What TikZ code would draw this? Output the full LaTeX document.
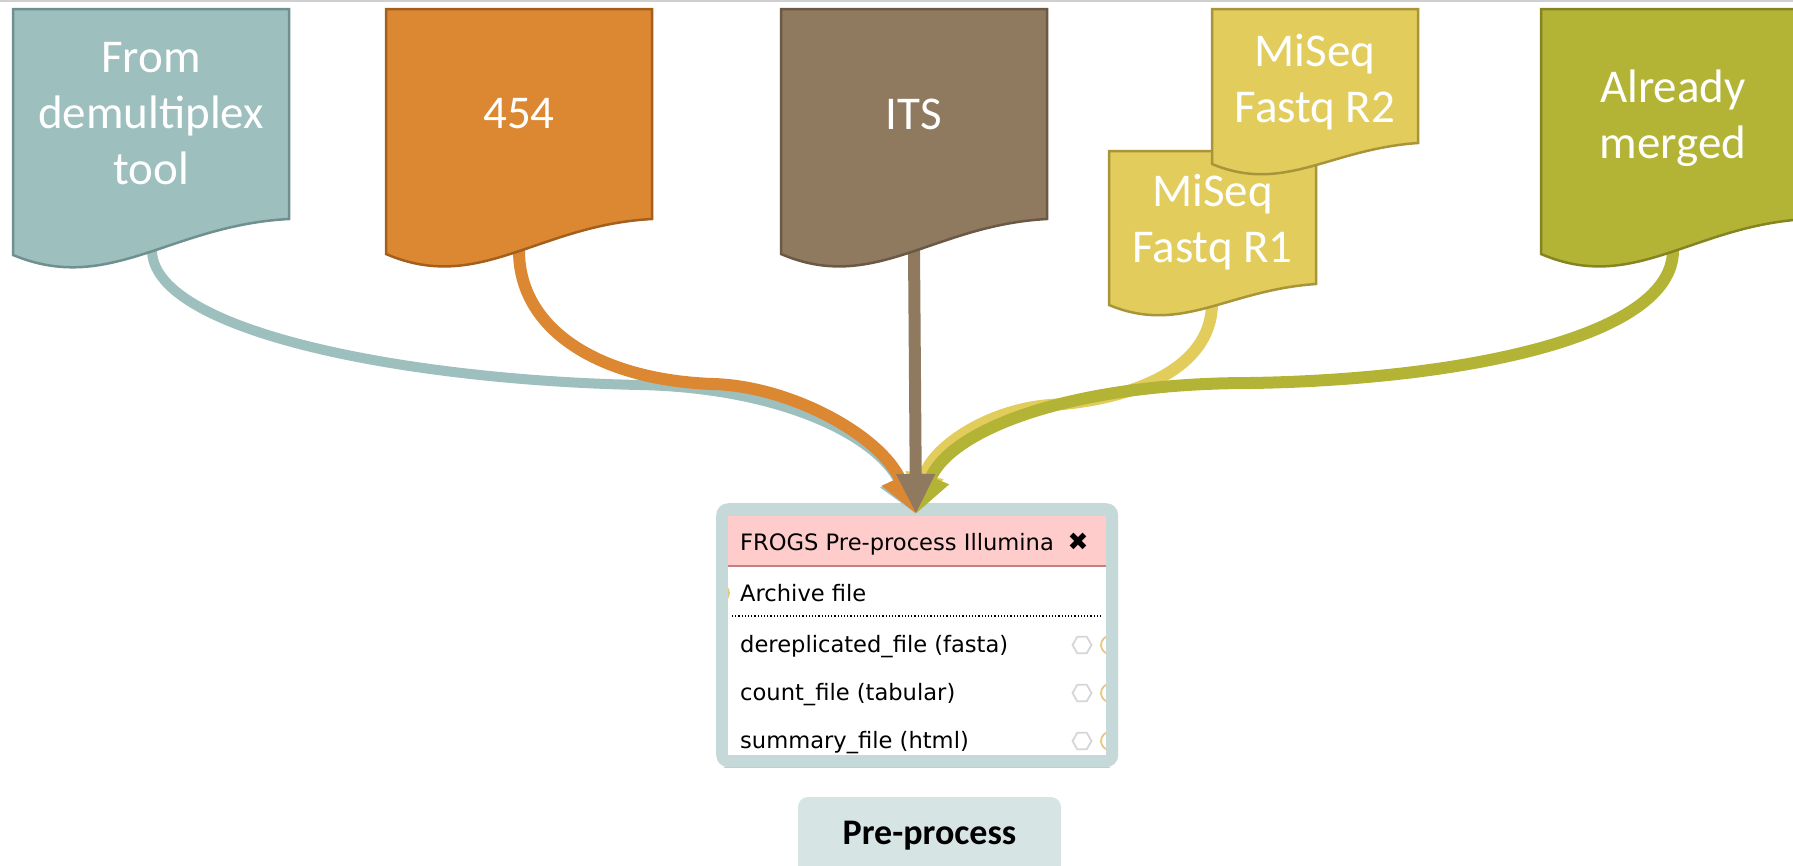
\documentclass[tikz,border=0pt]{standalone}
\usepackage{fontspec}
\setmainfont{Carlito}
\newfontfamily\uifont{DejaVu Sans}
\usetikzlibrary{arrows.meta,shapes.geometric}
\definecolor{cteal}{HTML}{9DBFBE}
\definecolor{cteald}{HTML}{6F908F}
\definecolor{corange}{HTML}{DC8732}
\definecolor{coranged}{HTML}{A45F1C}
\definecolor{cbrown}{HTML}{8F7A5F}
\definecolor{cbrownd}{HTML}{6A5944}
\definecolor{cyellow}{HTML}{E2CC5C}
\definecolor{cyellowd}{HTML}{A8953A}
\definecolor{colive}{HTML}{B3B435}
\definecolor{coliived}{HTML}{848522}
\definecolor{boxborder}{HTML}{C5D9D8}
\definecolor{hdrpink}{HTML}{FFCCCC}
\definecolor{hdrline}{HTML}{C47F7F}
\definecolor{ppfill}{HTML}{D6E4E3}
\definecolor{portc}{HTML}{E6C880}
\definecolor{gearc}{HTML}{D6D6D6}
\definecolor{tanline}{HTML}{E3C98A}
\definecolor{topline}{HTML}{CFCFCF}
\newcommand\docshape[7]{%
  \pgfmathsetmacro\dA{#2+0.57*(#4-#2)}%
  \pgfmathsetmacro\dB{#2+0.35*(#4-#2)}%
  \pgfmathsetmacro\dC{#5+6}%
  \pgfmathsetmacro\dD{#6+#7}%
  \draw[#1] (#2,#3) -- (#4,#3) -- (#4,#5) .. controls (\dA,\dC) and (\dB,\dD) .. (#2,#6) -- cycle;
}
\begin{document}
\begin{tikzpicture}[x=1pt,y=-1pt,
  doctext/.style={text=white,font=\fontsize{47}{56}\selectfont,align=center,inner sep=0pt},
  docline/.style={line width=2.5pt,line join=miter},
  conn/.style={line width=12pt,-{Triangle[length=40pt,width=36pt]}},
  uitext/.style={font=\uifont\fontsize{22.6}{26}\selectfont,text=black,inner sep=0pt,anchor=base west},
  gear/.style={regular polygon,regular polygon sides=6,draw=gearc,line width=1.8pt,minimum size=19pt,inner sep=0pt},
  port/.style={draw=portc,line width=1.8pt}]
\useasboundingbox (0,0) rectangle (1793,865);
\clip (0,0) rectangle (1793,865);
\draw[topline,line width=1.5pt] (0,0.75) -- (1793,0.75);

% tool box
\node[fill=boxborder,rounded corners=12pt,minimum width=402pt,minimum height=264pt,inner sep=0pt,anchor=north west] (tool) at (716,503) {};
\draw[tanline,line width=1.5pt] (724,767.5) -- (1110,767.5);
\fill[white] (728,516) rectangle (1106,755);
\fill[hdrpink] (728,516) rectangle (1106,565);
\draw[hdrline,line width=2pt] (728,565.5) -- (1106,565.5);
\begin{scope}
  \clip (728,516) rectangle (1106,755);
  \node[uitext] (hdr) at (740,550) {FROGS Pre-process Illumina};
  \node[font=\uifont\fontsize{25}{28}\selectfont,inner sep=0pt] (close) at (1078,542) {✖};
  \draw[port] (720,593) circle (9pt);
  \node[uitext] (archive) at (740,601) {Archive file};
  \draw[black,line width=1.2pt,dotted] (732,616) -- (1103,616);
  \node[uitext] (row1) at (740,652) {dereplicated\_file (fasta)};
  \node[uitext] (row2) at (740,700) {count\_file (tabular)};
  \node[uitext] (row3) at (740,748) {summary\_file (html)};
  \node[gear] (g1) at (1082,645) {};
  \node[gear] (g2) at (1082,693) {};
  \node[gear] (g3) at (1082,741) {};
  \draw[port] (1110,645) circle (9pt);
  \draw[port] (1110,693) circle (9pt);
  \draw[port] (1110,741) circle (9pt);
\end{scope}

% pre-process label
\node[fill=ppfill,rounded corners=10pt,minimum width=263pt,minimum height=78pt,inner sep=0pt,
  font=\bfseries\fontsize{36}{40}\selectfont] (pp) at (929.5,836) {Pre-process};

% connector end points
\coordinate (tip) at (916,514);
\coordinate (sdemux) at (152,249);
\coordinate (s454) at (519,249);
\coordinate (sits) at (914,249);
\coordinate (sr1) at (1212,303);
\coordinate (smerged) at (1673,249);

% connectors
\draw[conn,cteal,line width=10pt] (sdemux) .. controls (150,330) and (400,380) .. (640,385)
   .. controls (780,388) and (875,435) .. (tip);
\draw[conn,corange] (s454) .. controls (518,330) and (600,380) .. (713,384)
   .. controls (790,386) and (880,435) .. (tip);
\draw[conn,cyellow] (sr1) .. controls (1212,370) and (1130,400) .. (1050,405)
   .. controls (985,410) and (930,450) .. (tip);
\draw[conn,colive] (smerged) .. controls (1675,340) and (1450,380) .. (1250,383)
   .. controls (1070,383) and (950,430) .. (tip);
\draw[conn,cbrown] (sits) -- (tip);

% documents
\docshape{docline,fill=cteal,draw=cteald}{13}{9}{289}{219}{255}{40}
\docshape{docline,fill=corange,draw=coranged}{386}{9}{652}{219}{254}{40}
\docshape{docline,fill=cbrown,draw=cbrownd}{781}{9}{1047}{219}{254}{40}
\docshape{docline,fill=cyellow,draw=cyellowd}{1109}{151}{1316}{284}{305}{30}
\docshape{docline,fill=cyellow,draw=cyellowd}{1212}{9}{1418}{143}{164}{30}
\docshape{docline,fill=colive,draw=coliived}{1541}{9}{1807}{219}{254}{40}

\node[doctext] (tdemux) at (151,114) {From\\demultiplex\\tool};
\node[doctext] (t454) at (519,114) {454};
\node[doctext] (tits) at (914,114) {ITS};
\node[doctext] (tr1) at (1212.5,222.5) {MiSeq\\Fastq R1};
\node[doctext] (tr2) at (1315,82) {MiSeq\\Fastq R2};
\node[doctext] (tmerged) at (1673,118) {Already\\merged};
\end{tikzpicture}
\end{document}
